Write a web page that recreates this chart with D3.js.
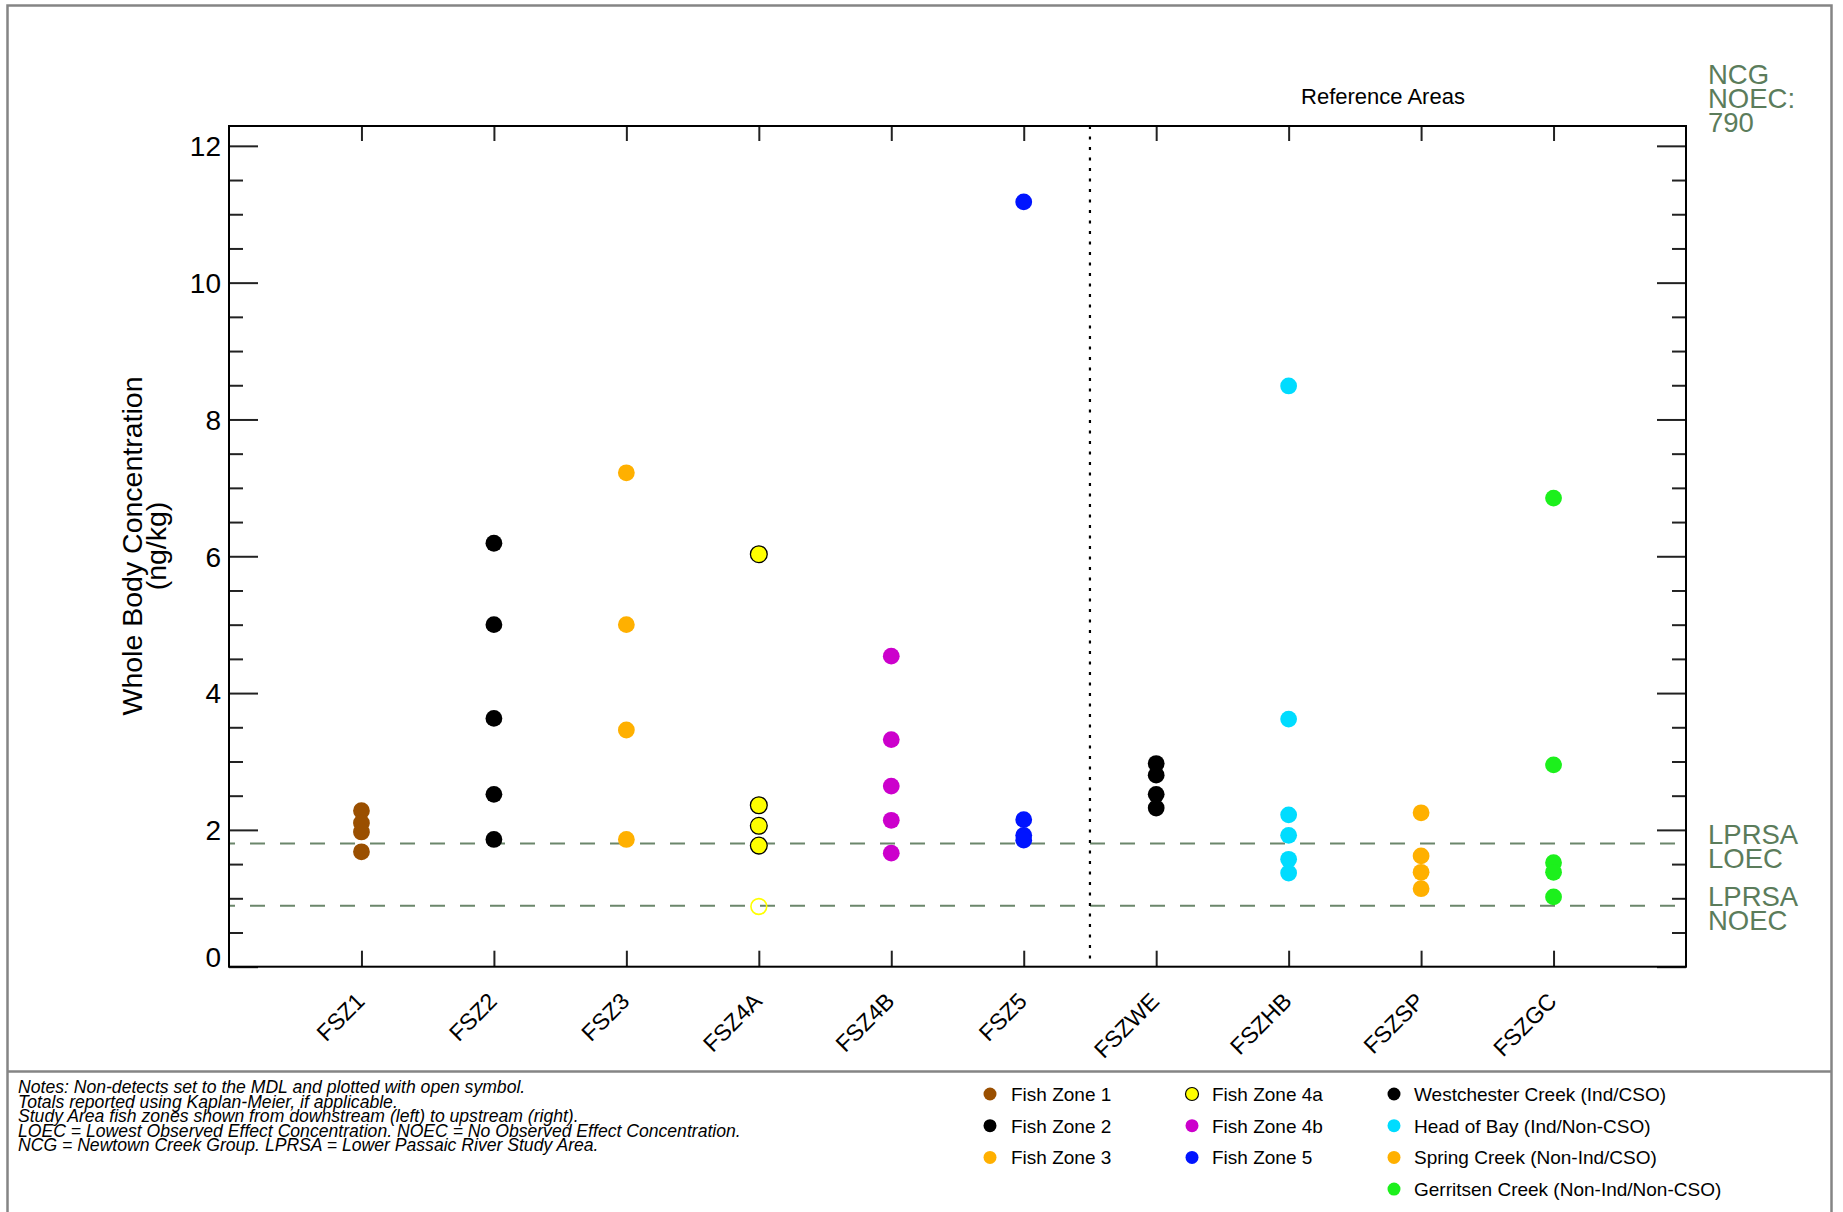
<!DOCTYPE html>
<html>
<head>
<meta charset="utf-8">
<script src="https://cdn.jsdelivr.net/npm/d3@7/dist/d3.min.js"></script>
<style>
  html, body { margin: 0; padding: 0; background: #fff; }
  svg { display: block; font-family: "Liberation Sans", Arial, sans-serif; }
</style>
</head>
<body>
<svg id="chart" width="1843" height="1212"></svg>
<script>
// Sampling zones along the x axis (study area first, then reference areas)
const categories = ["FSZ1", "FSZ2", "FSZ3", "FSZ4A", "FSZ4B", "FSZ5", "FSZWE", "FSZHB", "FSZSP", "FSZGC"];

// Whole body concentrations (ng/kg), detected results per zone
const fsz1 = [2.28, 2.10, 1.97, 1.68];
const fsz2 = [6.19, 5.00, 3.63, 2.52, 1.86];
const fsz3 = [7.22, 5.00, 3.46, 1.86];
const fsz4a = [6.03, 2.36, 2.06, 1.77];
const fsz4b = [4.54, 3.32, 2.64, 2.14, 1.66];
const fsz5 = [11.18, 2.15, 1.92, 1.85];
const fszwe = [2.97, 2.80, 2.52, 2.32];
const fszhb = [8.49, 3.62, 2.22, 1.92, 1.57, 1.37];
const fszsp = [2.25, 1.62, 1.38, 1.14];
const fszgc = [6.85, 2.95, 1.52, 1.38, 1.02];

// Non-detects (set to the MDL), drawn as open symbols
const fsz4aNonDetect = [0.88];

// Effect thresholds
const thresholdValues = [1.8, 0.89];
const thresholdLabels = [["LPRSA", "LOEC"], ["LPRSA", "NOEC"]];
const ncgLabel = ["NCG", "NOEC:", "790"];

// Axis ticks
const yMajorTicks = [0, 2, 4, 6, 8, 10, 12];
const yMinorTicks = d3.range(0, 12.01, 0.5).filter(v => v % 2 !== 0);

// Legend entries
const legendStudy = ["Fish Zone 1", "Fish Zone 2", "Fish Zone 3", "Fish Zone 4a", "Fish Zone 4b", "Fish Zone 5"];
const legendReference = ["Westchester Creek (Ind/CSO)", "Head of Bay (Ind/Non-CSO)", "Spring Creek (Non-Ind/CSO)", "Gerritsen Creek (Non-Ind/Non-CSO)"];

const notes = [
  "Notes: Non-detects set to the MDL and plotted with open symbol.",
  "Totals reported using Kaplan-Meier, if applicable.",
  "Study Area fish zones shown from downstream (left) to upstream (right).",
  "LOEC = Lowest Observed Effect Concentration. NOEC = No Observed Effect Concentration.",
  "NCG = Newtown Creek Group. LPRSA = Lower Passaic River Study Area."
];

// Styling
const zoneColors = ["#9a4f00", "#000000", "#ffb000", "#ffff00", "#cc00cc", "#0014ff", "#000000", "#00dcff", "#ffb000", "#1cf01c"];
const legendStudyColors = ["#9a4f00", "#000000", "#ffb000", "#ffff00", "#cc00cc", "#0014ff"];
const legendReferenceColors = ["#000000", "#00dcff", "#ffb000", "#1cf01c"];
const outlined = new Set(["FSZ4A"]);
const thresholdColor = "#6b866b";
const labelGreen = "#5b7c5b";

const zoneValues = [fsz1, fsz2, fsz3, fsz4a, fsz4b, fsz5, fszwe, fszhb, fszsp, fszgc];

const svg = d3.select("#chart");

// Outer frame and separator for the notes/legend panel
svg.append("rect")
  .attr("x", 7.5).attr("y", 5.5).attr("width", 1824).attr("height", 1230)
  .attr("fill", "none").attr("stroke", "#858585").attr("stroke-width", 2.5);
svg.append("line")
  .attr("x1", 7.5).attr("x2", 1831.5).attr("y1", 1071.5).attr("y2", 1071.5)
  .attr("stroke", "#858585").attr("stroke-width", 2.5);

const plot = { left: 229, right: 1686, top: 126, bottom: 966.7 };

const x = d3.scaleLinear().domain([0, categories.length + 1]).range([plot.left, plot.right]);
const y = d3.scaleLinear().domain([0, 12.29]).range([plot.bottom, plot.top]);

const g = svg.append("g");

// Threshold lines
thresholdValues.forEach(v => {
  g.append("line")
    .attr("x1", plot.left).attr("x2", plot.right)
    .attr("y1", y(v)).attr("y2", y(v))
    .attr("stroke", thresholdColor).attr("stroke-width", 2)
    .attr("stroke-dasharray", "15,15").attr("stroke-dashoffset", 9);
});

// Divider between study area and reference areas
g.append("line")
  .attr("x1", x(6.5)).attr("x2", x(6.5))
  .attr("y1", plot.top).attr("y2", plot.bottom)
  .attr("stroke", "#000").attr("stroke-width", 2.2)
  .attr("stroke-dasharray", "3,7.5");

// Axes with inward ticks
function styleAxis(sel) {
  sel.select(".domain").remove();
  sel.selectAll(".tick line").attr("stroke", "#222").attr("stroke-width", 2);
}

const yLeft = g.append("g").attr("transform", `translate(${plot.left},0)`)
  .call(d3.axisLeft(y).tickValues(yMajorTicks).tickSize(-29).tickPadding(8).tickFormat(d3.format("d")));
styleAxis(yLeft);
yLeft.selectAll("text")
  .attr("font-size", 28).attr("fill", "#000")
  .attr("font-family", "Liberation Sans, Arial, sans-serif")
  .attr("dy", d => d === 0 ? "-0.0em" : "0.35em");

g.append("g").attr("transform", `translate(${plot.left},0)`)
  .call(d3.axisLeft(y).tickValues(yMinorTicks).tickSize(-14).tickFormat(""))
  .call(styleAxis);

g.append("g").attr("transform", `translate(${plot.right},0)`)
  .call(d3.axisRight(y).tickValues(yMajorTicks).tickSize(-29).tickFormat(""))
  .call(styleAxis);
g.append("g").attr("transform", `translate(${plot.right},0)`)
  .call(d3.axisRight(y).tickValues(yMinorTicks).tickSize(-14).tickFormat(""))
  .call(styleAxis);

const catTicks = categories.map((c, i) => i + 1);

g.append("g").attr("transform", `translate(0,${plot.top})`)
  .call(d3.axisTop(x).tickValues(catTicks).tickSize(-15).tickFormat(""))
  .call(styleAxis);

const xBottom = g.append("g").attr("transform", `translate(0,${plot.bottom})`)
  .call(d3.axisBottom(x).tickValues(catTicks).tickSize(-16).tickFormat(i => categories[i - 1]));
styleAxis(xBottom);
xBottom.selectAll("text")
  .attr("font-size", 23).attr("fill", "#000")
  .attr("font-family", "Liberation Sans, Arial, sans-serif")
  .attr("text-anchor", "end")
  .attr("dy", 0).attr("y", 0)
  .attr("transform", "translate(4,36) rotate(-45)");

// Plot frame
g.append("rect")
  .attr("x", plot.left).attr("y", plot.top)
  .attr("width", plot.right - plot.left).attr("height", plot.bottom - plot.top)
  .attr("fill", "none").attr("stroke", "#000").attr("stroke-width", 2);

// Data points
const R = 8.4;
zoneValues.forEach((vals, i) => {
  const cat = categories[i];
  g.append("g").selectAll("circle")
    .data(vals)
    .join("circle")
    .attr("cx", x(i + 1))
    .attr("cy", d => y(d))
    .attr("r", R)
    .attr("fill", zoneColors[i])
    .attr("stroke", outlined.has(cat) ? "#000" : "none")
    .attr("stroke-width", 1.3);
});

// Non-detect open symbols
g.append("g").selectAll("circle")
  .data(fsz4aNonDetect)
  .join("circle")
  .attr("cx", x(categories.indexOf("FSZ4A") + 1))
  .attr("cy", d => y(d))
  .attr("r", R - 0.5)
  .attr("fill", "none")
  .attr("stroke", zoneColors[categories.indexOf("FSZ4A")])
  .attr("stroke-width", 1.6);

// Threshold labels to the right of the plot
thresholdValues.forEach((v, i) => {
  const t = svg.append("text")
    .attr("x", 1708).attr("y", y(v))
    .attr("font-size", 27.5).attr("fill", labelGreen);
  thresholdLabels[i].forEach((line, j) => {
    t.append("tspan").attr("x", 1708).attr("dy", j === 0 ? 0 : 24).text(line);
  });
});

const ncg = svg.append("text").attr("x", 1708).attr("y", 83.5)
  .attr("font-size", 27.5).attr("fill", labelGreen);
ncgLabel.forEach((line, j) => {
  ncg.append("tspan").attr("x", 1708).attr("dy", j === 0 ? 0 : 24).text(line);
});

// Reference areas heading
svg.append("text")
  .attr("x", x(8.75) - 5).attr("y", 104)
  .attr("text-anchor", "middle")
  .attr("font-size", 22).attr("fill", "#000")
  .text("Reference Areas");

// Y axis title
const yTitle = svg.append("text")
  .attr("transform", "translate(142,546) rotate(-90)")
  .attr("text-anchor", "middle")
  .attr("font-size", 28.5).attr("fill", "#000");
yTitle.append("tspan").attr("x", 0).attr("y", 0).text("Whole Body Concentration");
yTitle.append("tspan").attr("x", 0).attr("y", 24).text("(ng/kg)");

// Notes
const notesText = svg.append("text")
  .attr("font-size", 17.6).attr("font-style", "italic").attr("fill", "#000");
notes.forEach((line, j) => {
  notesText.append("tspan").attr("x", 18).attr("y", 1093 + j * 14.5).text(line);
});

// Legend
const legend = svg.append("g").attr("font-size", 19).attr("fill", "#000");
const rowY = j => 1094 + j * 31.7;
function legendColumn(labels, colors, cx, tx) {
  labels.forEach((lab, j) => {
    legend.append("circle")
      .attr("cx", cx).attr("cy", rowY(j)).attr("r", 6.5)
      .attr("fill", colors[j])
      .attr("stroke", lab === "Fish Zone 4a" ? "#000" : "none")
      .attr("stroke-width", 1.2);
    legend.append("text")
      .attr("x", tx).attr("y", rowY(j)).attr("dy", "0.36em")
      .text(lab);
  });
}
legendColumn(legendStudy.slice(0, 3), legendStudyColors.slice(0, 3), 990, 1011);
legendColumn(legendStudy.slice(3), legendStudyColors.slice(3), 1192, 1212);
legendColumn(legendReference, legendReferenceColors, 1394, 1414);
</script>
</body>
</html>
